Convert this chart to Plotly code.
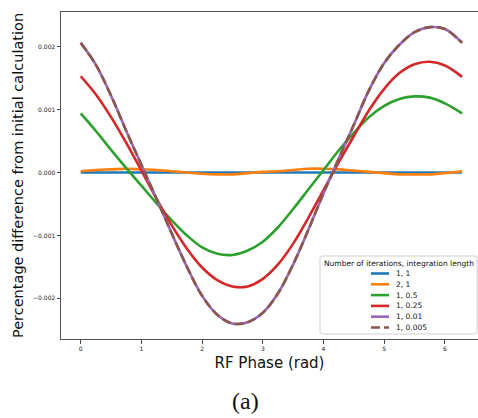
import plotly.graph_objects as go

# RF phase sample points (rad)
phase = [0.0, 0.25, 0.5, 0.75, 1.0, 1.25, 1.5, 1.75, 2.0, 2.25, 2.5, 2.75, 3.0,
         3.25, 3.5, 3.75, 4.0, 4.25, 4.5, 4.75, 5.0, 5.25, 5.5, 5.75, 6.0, 6.283]

# Legend labels: number of iterations, integration length
series_labels = ["1, 1", "2, 1", "1, 0.5", "1, 0.25", "1, 0.01", "1, 0.005"]

# Percentage difference from the initial calculation for each run
diff_1_1 = [0.0, 0.0, 0.0, 0.0, 0.0, 0.0, 0.0, 0.0, 0.0, 0.0, 0.0, 0.0, 0.0,
            0.0, 0.0, 0.0, 0.0, 0.0, 0.0, 0.0, 0.0, 0.0, 0.0, 0.0, 0.0, 0.0]
diff_2_1 = [0.00002, 0.00004, 0.00005, 0.00006, 0.00005, 0.00004, 0.00002, 0.0,
            -0.00002, -0.00003, -0.00003, -0.00001, 0.00001, 0.00002, 0.00004,
            0.00006, 0.00006, 0.00005, 0.00003, 0.00001, -0.00001, -0.00003,
            -0.00003, -0.00003, -0.00001, 0.00002]
diff_1_05 = [0.00094, 0.00066, 0.00036, 0.00007, -0.00021, -0.00049, -0.00076,
             -0.00100, -0.00119, -0.00129, -0.00131, -0.00124, -0.00110, -0.00087,
             -0.00058, -0.00027, 0.00004, 0.00035, 0.00063, 0.00088, 0.00106,
             0.00117, 0.00121, 0.00119, 0.00110, 0.00094]
diff_1_025 = [0.00153, 0.00124, 0.00088, 0.00047, 0.00003, -0.00042, -0.00084,
              -0.00121, -0.00151, -0.00171, -0.00181, -0.00181, -0.00169, -0.00146,
              -0.00113, -0.00072, -0.00028, 0.00016, 0.00058, 0.00099, 0.00133,
              0.00158, 0.00172, 0.00176, 0.00170, 0.00152]
diff_1_001 = [0.00206, 0.00171, 0.00122, 0.00066, 0.00012, -0.00042, -0.00097,
              -0.00150, -0.00196, -0.00226, -0.00240, -0.00238, -0.00223, -0.00192,
              -0.00146, -0.00091, -0.00033, 0.00022, 0.00076, 0.00131, 0.00174,
              0.00203, 0.00223, 0.00231, 0.00228, 0.00206]
diff_1_0005 = [0.00206, 0.00171, 0.00122, 0.00066, 0.00012, -0.00042, -0.00097,
               -0.00150, -0.00196, -0.00226, -0.00240, -0.00238, -0.00223, -0.00192,
               -0.00146, -0.00091, -0.00033, 0.00022, 0.00076, 0.00131, 0.00174,
               0.00203, 0.00223, 0.00231, 0.00228, 0.00206]

x_ticks = [0, 1, 2, 3, 4, 5, 6]
y_ticks = [-0.002, -0.001, 0.0, 0.001, 0.002]

series = [diff_1_1, diff_2_1, diff_1_05, diff_1_025, diff_1_001, diff_1_0005]
colors = ["#1f77b4", "#ff7f0e", "#2ca02c", "#d62728", "#9467bd", "#8c564b"]
dashes = ["solid", "solid", "solid", "solid", "solid", "9px,4px"]

W, H = 478, 418
L, R, T, B = 61, 0, 12, 79
FONT = "DejaVu Sans"
LW = 2.6

fig = go.Figure()
for name, ys, col, dash in zip(series_labels, series, colors, dashes):
    fig.add_trace(go.Scatter(
        x=phase, y=ys, mode="lines", name=name, showlegend=False,
        line=dict(color=col, width=LW, dash=dash, shape="spline", smoothing=1.0),
    ))

# pixel -> paper helpers for the legend box
def px_x(p):
    return (p - L) / (W - L - R)

def px_y(p):
    return (H - B - p) / (H - T - B)

shapes = []
annotations = []

# legend frame with rounded corners
bx0, bx1, by0, by1, rad = 320, 477, 256, 334, 2.5
rx = rad / (W - L - R)
ry = rad / (H - T - B)
x0, x1, y0, y1 = px_x(bx0), px_x(bx1), px_y(by1), px_y(by0)
frame = (f"M{x0 + rx},{y0} L{x1 - rx},{y0} Q{x1},{y0} {x1},{y0 + ry} "
         f"L{x1},{y1 - ry} Q{x1},{y1} {x1 - rx},{y1} L{x0 + rx},{y1} "
         f"Q{x0},{y1} {x0},{y1 - ry} L{x0},{y0 + ry} Q{x0},{y0} {x0 + rx},{y0} Z")
shapes.append(dict(type="path", path=frame, xref="paper", yref="paper",
                   fillcolor="rgba(255,255,255,0.85)", line=dict(color="#d0d0d0", width=1),
                   layer="above"))

annotations.append(dict(text="Number of iterations, integration length",
                        x=px_x((bx0 + bx1) / 2), y=px_y(263.5), xref="paper", yref="paper",
                        xanchor="center", yanchor="middle", showarrow=False,
                        font=dict(family=FONT, size=7.5, color="#111")))

row0, row_step = 273.5, 10.8
for i, (name, col, dash) in enumerate(zip(series_labels, colors, dashes)):
    yy = px_y(row0 + i * row_step)
    shapes.append(dict(type="line", xref="paper", yref="paper",
                       x0=px_x(371), x1=px_x(389), y0=yy, y1=yy, layer="above",
                       line=dict(color=col, width=LW, dash=dash)))
    annotations.append(dict(text=name, x=px_x(394), y=yy, xref="paper", yref="paper",
                            xanchor="left", yanchor="middle", showarrow=False,
                            font=dict(family=FONT, size=7.5, color="#111")))

# sub-figure label
annotations.append(dict(text="(a)", x=px_x(245), y=px_y(401), xref="paper", yref="paper",
                        xanchor="center", yanchor="middle", showarrow=False,
                        font=dict(family="Liberation Serif", size=24, color="#111")))

axis_common = dict(
    showgrid=False, zeroline=False, showline=True, linecolor="#555", linewidth=1,
    ticks="outside", ticklen=3.5, tickwidth=1, tickcolor="#444",
    tickfont=dict(family=FONT, size=6, color="#222"), automargin=False,
)

fig.update_layout(
    width=W, height=H,
    margin=dict(l=L, r=R, t=T, b=B, pad=0),
    paper_bgcolor="white", plot_bgcolor="white",
    font=dict(family=FONT),
    xaxis=dict(range=[-0.325, 6.545], tickvals=x_ticks, mirror=True,
               title=dict(text="RF Phase (rad)", standoff=6,
                          font=dict(family=FONT, size=15, color="#111")),
               **axis_common),
    yaxis=dict(range=[-0.002646, 0.002551], tickvals=y_ticks, tickformat=".3f",
               title=dict(text="Percentage difference from initial calculation", standoff=6,
                          font=dict(family=FONT, size=14.5, color="#111")),
               **axis_common),
    shapes=shapes,
    annotations=annotations,
    showlegend=False,
)

fig.write_html("out.html")
